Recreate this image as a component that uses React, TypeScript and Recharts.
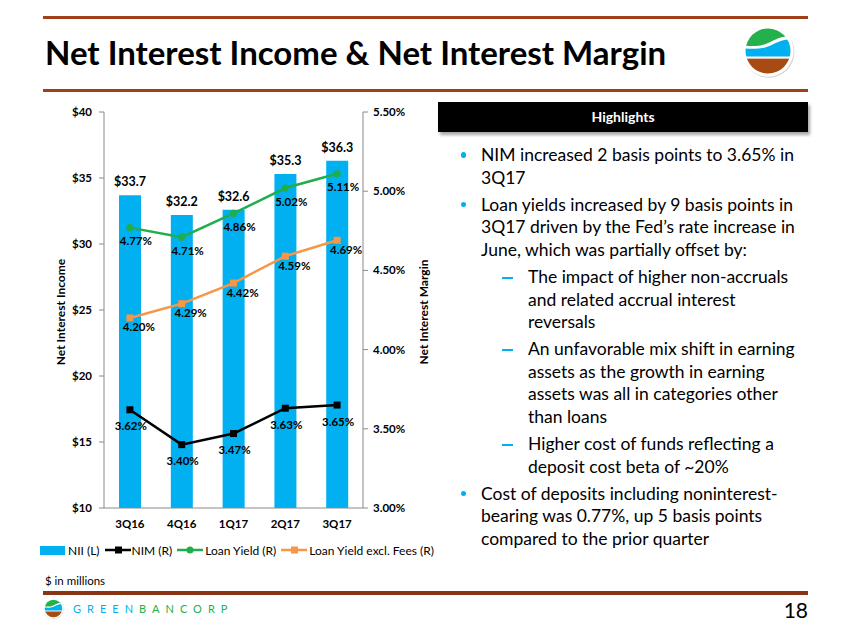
import { Bar, ComposedChart, LabelList, Line, XAxis, YAxis } from "recharts";

const quarters = ["3Q16", "4Q16", "1Q17", "2Q17", "3Q17"];
const nii = [33.7, 32.2, 32.6, 35.3, 36.3];
const nim = [3.62, 3.4, 3.47, 3.63, 3.65];
const loanYield = [4.77, 4.71, 4.86, 5.02, 5.11];
const loanYieldExFees = [4.2, 4.29, 4.42, 4.59, 4.69];
const leftTicks = [10, 15, 20, 25, 30, 35, 40];
const rightTicks = [3.0, 3.5, 4.0, 4.5, 5.0, 5.5];

const bullets = [
  { lines: ["NIM increased 2 basis points to 3.65% in", "3Q17"] },
  {
    lines: ["Loan yields increased by 9 basis points in", "3Q17 driven by the Fed\u2019s rate increase in", "June, which was partially offset by:"],
    subs: [
      ["The impact of higher non-accruals", "and related accrual interest", "reversals"],
      ["An unfavorable mix shift in earning", "assets as the growth in earning", "assets was all in categories other", "than loans"],
      ["Higher cost of funds reflecting a", "deposit cost beta of ~20%"]
    ]
  },
  { lines: ["Cost of deposits including noninterest-", "bearing was 0.77%, up 5 basis points", "compared to the prior quarter"] }
];

const data = quarters.map((q, i) => ({ q, nii: nii[i], nim: nim[i], ly: loanYield[i], lyx: loanYieldExFees[i] }));

const blue = "#00b0f0";
const green = "#1fae4b";
const orange = "#f79646";
const brown = "#a0401a";
const axis = "#8a8a8a";
const font = "Lato, 'Open Sans', sans-serif";
const tick = { fontSize: 11.5, fontWeight: 700, fill: "#000", fontFamily: font };

const square = (color: string) => (p: any) => (
  <rect key={`s${p.index}`} x={p.cx - 3.5} y={p.cy - 3.5} width={7} height={7} fill={color} />
);
const circle = (color: string) => (p: any) => (
  <circle key={`c${p.index}`} cx={p.cx} cy={p.cy} r={3.6} fill={color} />
);
const pctLabel = (dx: number, dy: number) => (p: any) => (
  <text key={`l${p.index}`} x={p.x + dx} y={p.y + dy} textAnchor="middle" dominantBaseline="central" fontSize={11.5} fontWeight={700} fill="#000" fontFamily={font}>
    {Number(p.value).toFixed(2)}%
  </text>
);

function Logo({ size }: { size: number }) {
  const id = `clip${size}`;
  return (
    <svg width={size} height={size} viewBox="-30 -30 60 60" style={{ display: "block", overflow: "visible" }}>
      <defs>
        <clipPath id={id}>
          <circle cx={0} cy={0} r={25} />
        </clipPath>
      </defs>
      <circle cx={0.8} cy={1.2} r={28.5} fill="rgba(0,0,0,.18)" />
      <circle cx={0} cy={0} r={28.5} fill="#fff" />
      <g clipPath={`url(#${id})`}>
        <rect x={-30} y={-30} width={60} height={60} fill="#fff" />
        <path d="M-30,-30 L30,-30 L30,-14 C18,-20 8,-12 -2,-8 C-12,-4 -20,-6 -30,-6 Z" fill="#22b14c" />
        <path d="M-30,-3 C-20,-3 -10,-1 0,-5 C10,-9 20,-16 30,-11 L30,6 L-30,6 Z" fill={blue} />
        <rect x={-30} y={8.5} width={60} height={30} fill="#a84a12" />
      </g>
    </svg>
  );
}

function LegendIcon({ color, marker }: { color: string; marker: "square" | "circle" }) {
  return (
    <svg width={26} height={10} style={{ display: "block" }}>
      <line x1={0} y1={5} x2={26} y2={5} stroke={color} strokeWidth={2.5} />
      {marker === "square" ? <rect x={10} y={1.5} width={7} height={7} fill={color} /> : <circle cx={13} cy={5} r={3.5} fill={color} />}
    </svg>
  );
}

export default function App() {
  return (
    <div style={{ position: "absolute", left: 0, top: 0, width: 850, height: 635, background: "#fff", fontFamily: font, color: "#000", overflow: "hidden" }}>
      <div style={{ position: "absolute", left: 43, top: 15.5, width: 765, height: 3, background: brown }} />
      <div style={{ position: "absolute", left: 43, top: 88.5, width: 765, height: 3, background: brown }} />
      <div style={{ position: "absolute", left: 45, top: 36, fontSize: 33, lineHeight: "33px", fontWeight: 700, whiteSpace: "nowrap" }}>
        Net Interest Income &amp; Net Interest Margin
      </div>
      <div style={{ position: "absolute", left: 741, top: 24 }}>
        <Logo size={54} />
      </div>

      <div style={{ position: "absolute", left: 40, top: 100 }}>
        <ComposedChart width={410} height={430} data={data} margin={{ top: 12, right: 27, bottom: 0, left: 0 }} barCategoryGap="29%">
          <XAxis dataKey="q" stroke={axis} tick={tick} tickLine={false} tickSize={0} tickMargin={12} height={22} />
          <YAxis yAxisId="l" domain={[10, 40]} ticks={leftTicks} stroke={axis} tick={tick} tickSize={5} tickMargin={7} width={64} tickFormatter={(v: number) => `$${v}`} />
          <YAxis yAxisId="r" orientation="right" domain={[3, 5.5]} ticks={rightTicks} stroke={axis} tick={tick} tickSize={5} tickMargin={5} width={60} tickFormatter={(v: number) => `${v.toFixed(2)}%`} />
          <Bar yAxisId="l" dataKey="nii" fill={blue} isAnimationActive={false}>
            <LabelList dataKey="nii" position="top" offset={9} formatter={(v: any) => `$${Number(v).toFixed(1)}`} style={{ fontSize: 12.5, fontWeight: 700, fill: "#000", fontFamily: font }} />
          </Bar>
          <Line yAxisId="r" dataKey="nim" stroke="#000" strokeWidth={2.5} dot={square("#000")} isAnimationActive={false}>
            <LabelList dataKey="nim" content={pctLabel(1, 16)} />
          </Line>
          <Line yAxisId="r" dataKey="ly" stroke={green} strokeWidth={2.5} dot={circle(green)} isAnimationActive={false}>
            <LabelList dataKey="ly" content={pctLabel(6, 13)} />
          </Line>
          <Line yAxisId="r" dataKey="lyx" stroke={orange} strokeWidth={2.5} dot={square(orange)} isAnimationActive={false}>
            <LabelList dataKey="lyx" content={pctLabel(9, 9)} />
          </Line>
        </ComposedChart>
      </div>

      <div style={{ position: "absolute", left: 60, top: 312, transform: "translate(-50%, -50%) rotate(-90deg)", fontSize: 12, fontWeight: 700, whiteSpace: "nowrap" }}>
        Net Interest Income
      </div>
      <div style={{ position: "absolute", left: 423, top: 312, transform: "translate(-50%, -50%) rotate(-90deg)", fontSize: 12, fontWeight: 700, whiteSpace: "nowrap" }}>
        Net Interest Margin
      </div>

      <div style={{ position: "absolute", left: 40, top: 543, height: 14, display: "flex", alignItems: "center", fontSize: 12, whiteSpace: "nowrap" }}>
        <div style={{ width: 25, height: 9, background: blue, marginRight: 3 }} />
        <span style={{ marginRight: 5 }}>NII (L)</span>
        <LegendIcon color="#000" marker="square" />
        <span style={{ marginLeft: 1, marginRight: 5 }}>NIM (R)</span>
        <LegendIcon color={green} marker="circle" />
        <span style={{ marginLeft: 2, marginRight: 5 }}>Loan Yield (R)</span>
        <LegendIcon color={orange} marker="square" />
        <span style={{ marginLeft: 2 }}>Loan Yield excl. Fees (R)</span>
      </div>

      <div style={{ position: "absolute", left: 438, top: 102, width: 370, height: 30, background: "#000", boxShadow: "2px 3px 3px rgba(0,0,0,.35)", color: "#fff", fontWeight: 700, fontSize: 14, lineHeight: "30px", textAlign: "center" }}>
        Highlights
      </div>

      <div style={{ position: "absolute", left: 450, top: 144, width: 400, fontSize: 17.5, lineHeight: "22.6px", whiteSpace: "nowrap" }}>
        {bullets.map((b, i) => (
          <div key={i} style={{ marginTop: i ? 4.5 : 0 }}>
            {b.lines.map((t, j) => (
              <div key={j} style={{ position: "relative", paddingLeft: 31 }}>
                {j === 0 && <span style={{ position: "absolute", left: 10.5, top: 8, width: 5.5, height: 5.5, borderRadius: "50%", background: blue }} />}
                {t}
              </div>
            ))}
            {(b.subs || []).map((s, k) => (
              <div key={k} style={{ marginTop: 4.5 }}>
                {s.map((t, j) => (
                  <div key={j} style={{ position: "relative", paddingLeft: 78 }}>
                    {j === 0 && <span style={{ position: "absolute", left: 52, top: 11, width: 11, height: 2, background: blue }} />}
                    {t}
                  </div>
                ))}
              </div>
            ))}
          </div>
        ))}
      </div>

      <div style={{ position: "absolute", left: 45, top: 574, fontSize: 11.5 }}>$ in millions</div>
      <div style={{ position: "absolute", left: 43, top: 591, width: 765, height: 4, background: "#8b3413" }} />
      <div style={{ position: "absolute", left: 43, top: 598 }}>
        <Logo size={21} />
      </div>
      <div style={{ position: "absolute", left: 73, top: 602, fontSize: 11, letterSpacing: 6, whiteSpace: "nowrap" }}>
        <span style={{ color: blue }}>GREEN</span>
        <span style={{ color: "#22b14c" }}>BANCORP</span>
      </div>
      <div style={{ position: "absolute", right: 42, top: 597, fontSize: 21 }}>18</div>
    </div>
  );
}
